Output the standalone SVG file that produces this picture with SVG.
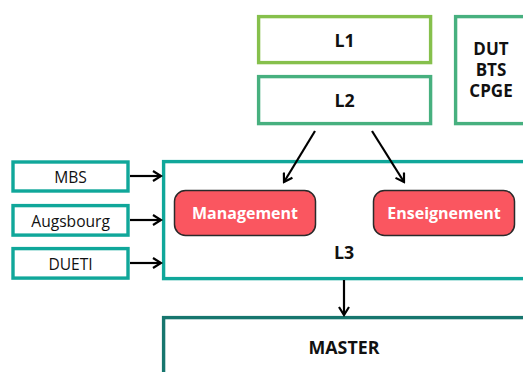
<svg xmlns="http://www.w3.org/2000/svg" width="523" height="372" viewBox="0 0 523 372">
<defs>
<style>
.box{fill:#fff;stroke-width:3.4}
.t{font-family:"Open Sans","Noto Sans",sans-serif;text-anchor:middle}
.b{font-weight:bold;font-size:17.8px;fill:#111}
.d{font-weight:bold;font-size:17px;fill:#111}
.s{font-size:15.6px;fill:#111}
.w{font-weight:bold;font-size:16px;fill:#fff}
.pill{fill:#fa5660;stroke:#2a2a2a;stroke-width:1.5}
.c{stroke:#000;stroke-width:2.2;fill:none;marker-end:url(#ah)}
</style>
<marker id="ah" viewBox="0 0 12 12" refX="10" refY="6" markerWidth="12" markerHeight="12" markerUnits="userSpaceOnUse" orient="auto">
<path d="M2,1 L10,6 L2,11" fill="none" stroke="#000" stroke-width="2.2"/>
</marker>
</defs>
<rect width="523" height="372" fill="#fff"/>
<g id="L1"><rect class="box" x="258.6" y="16.6" width="172" height="46" stroke="#86c04c"/><text class="t b" x="344.6" y="46.5">L1</text></g>
<g id="L2"><rect class="box" x="258.6" y="76.6" width="172" height="47" stroke="#47b07f"/><text class="t b" x="344.6" y="106.5">L2</text></g>
<g id="DUT"><rect class="box" x="455.6" y="16.6" width="80" height="107" stroke="#47b07f"/><text class="t d" x="491" y="55">DUT</text><text class="t d" x="491" y="76">BTS</text><text class="t d" x="491" y="97">CPGE</text></g>
<g id="MBS"><rect class="box" x="13" y="162" width="115" height="29" stroke="#10a79a"/><text class="t s" x="70.6" y="182.5">MBS</text></g>
<g id="Augsbourg"><rect class="box" x="13" y="205.6" width="115" height="29.5" stroke="#10a79a"/><text class="t s" x="70.6" y="226.5">Augsbourg</text></g>
<g id="DUETI"><rect class="box" x="13" y="248.6" width="115" height="29.5" stroke="#10a79a"/><text class="t s" x="70.6" y="269.5">DUETI</text></g>
<g id="L3"><rect class="box" x="163.6" y="161.6" width="380" height="117" stroke="#10a79a"/><text class="t b" x="344" y="258.5">L3</text></g>
<g id="Management"><rect class="pill" x="174.5" y="190.5" width="141" height="45" rx="11"/><text class="t w" x="245" y="219">Management</text></g>
<g id="Enseignement"><rect class="pill" x="373.5" y="190.5" width="141" height="45" rx="11"/><text class="t w" x="444" y="219">Enseignement</text></g>
<g id="MASTER"><rect class="box" x="163.6" y="317.6" width="380" height="80" stroke="#17766e"/><text class="t b" x="344" y="353.5">MASTER</text></g>
<g id="connectors">
<line class="c" x1="315" y1="131" x2="284" y2="182"/>
<line class="c" x1="372" y1="131" x2="404" y2="182"/>
<line class="c" x1="344" y1="280" x2="344" y2="315"/>
<line class="c" x1="130" y1="176" x2="161" y2="176"/>
<line class="c" x1="130" y1="220" x2="161" y2="220"/>
<line class="c" x1="130" y1="263" x2="161" y2="263"/>
</g>
</svg>
